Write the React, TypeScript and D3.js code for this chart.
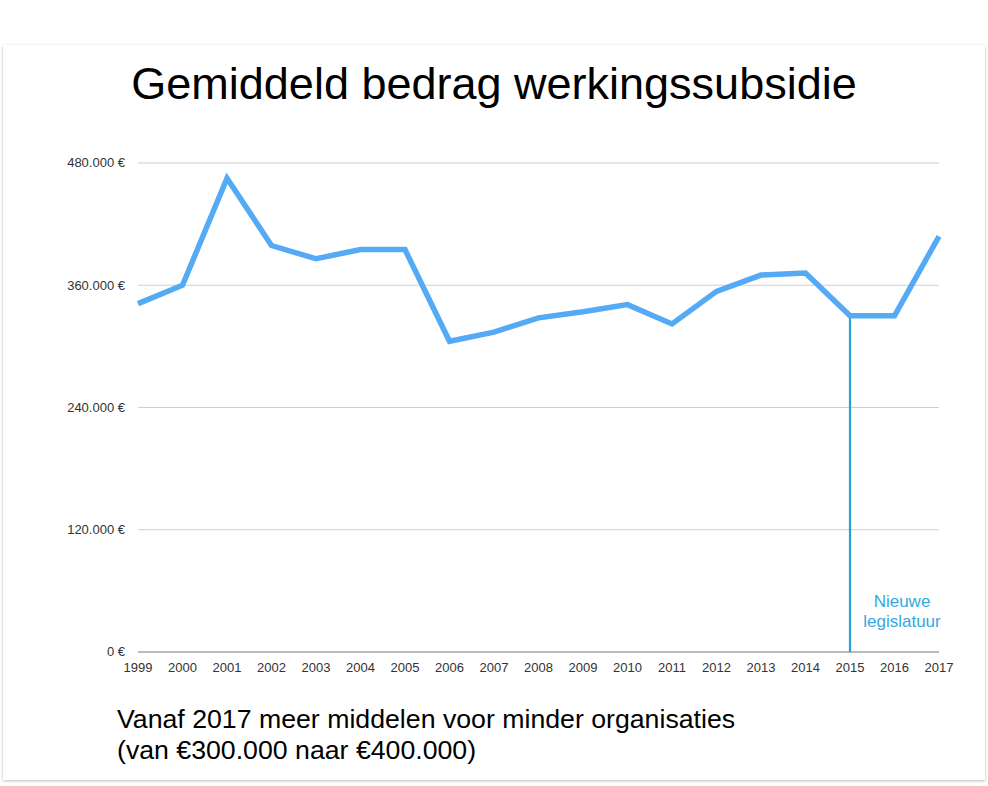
import React from 'react';
import * as d3 from 'd3';

const years = [1999, 2000, 2001, 2002, 2003, 2004, 2005, 2006, 2007, 2008, 2009, 2010, 2011, 2012, 2013, 2014, 2015, 2016, 2017];
const amounts = [342000, 360000, 465000, 399000, 386000, 395000, 395000, 305000, 314000, 328000, 334000, 341000, 322000, 354000, 370000, 372000, 330000, 330000, 408000];
const yTicks = [0, 120000, 240000, 360000, 480000];
const markerYear = 2015;
const markerLabel = ['Nieuwe', 'legislatuur'];
const title = 'Gemiddeld bedrag werkingssubsidie';
const footnote = ['Vanaf 2017 meer middelen voor minder organisaties', '(van €300.000 naar €400.000)'];

const W = 988, H = 786;
const font = '"Liberation Sans", Arial, Helvetica, sans-serif';
const nl = d3.formatLocale({ decimal: ',', thousands: '.', grouping: [3], currency: ['', ' €'] });
const fmt = (v: number) => nl.format(',d')(v) + ' €';

export default function App() {
  const x = d3.scaleLinear().domain([1999, 2017]).range([138, 939]);
  const y = d3.scaleLinear().domain([0, 480000]).range([652, 163]);
  const line = d3.line<number>().x((_, i) => x(years[i])).y(d => y(d));
  const mIdx = years.indexOf(markerYear);

  return (
    <svg width={W} height={H} style={{ position: 'absolute', left: 0, top: 0, background: '#fff' }} fontFamily={font}>
      <defs>
        <filter id="shadow" x="-5%" y="-5%" width="110%" height="110%">
          <feDropShadow dx="0" dy="1" stdDeviation="1.5" floodColor="#000" floodOpacity="0.28" />
        </filter>
      </defs>
      <rect x={3} y={45} width={982} height={735} fill="#fff" filter="url(#shadow)" />

      <text x={494} y={99} fontSize={45} textAnchor="middle" fill="#000">{title}</text>

      {yTicks.map(t => (
        <g key={t}>
          {t > 0 && <line x1={x(1999)} x2={x(2017)} y1={y(t)} y2={y(t)} stroke="#cfcfcf" strokeWidth={1} />}
          <text x={125} y={y(t)} dy="0.33em" fontSize={13} textAnchor="end" fill="#333">{fmt(t)}</text>
        </g>
      ))}
      <line x1={x(1999)} x2={x(2017)} y1={y(0)} y2={y(0)} stroke="#777" strokeWidth={1.2} />

      {years.map(yr => (
        <text key={yr} x={x(yr)} y={672} fontSize={13} textAnchor="middle" fill="#333">{yr}</text>
      ))}

      <line x1={x(markerYear)} x2={x(markerYear)} y1={y(0)} y2={y(amounts[mIdx])} stroke="#2a9fdb" strokeWidth={2.2} />

      <path d={line(amounts) || ''} fill="none" stroke="#55aaf5" strokeWidth={5.5} strokeLinejoin="miter" />

      {markerLabel.map((s, i) => (
        <text key={s} x={902} y={607 + i * 20} fontSize={17} textAnchor="middle" fill="#36a8e0">{s}</text>
      ))}

      {footnote.map((s, i) => (
        <text key={s} x={117} y={728 + i * 31} fontSize={26.7} fill="#000">{s}</text>
      ))}
    </svg>
  );
}
